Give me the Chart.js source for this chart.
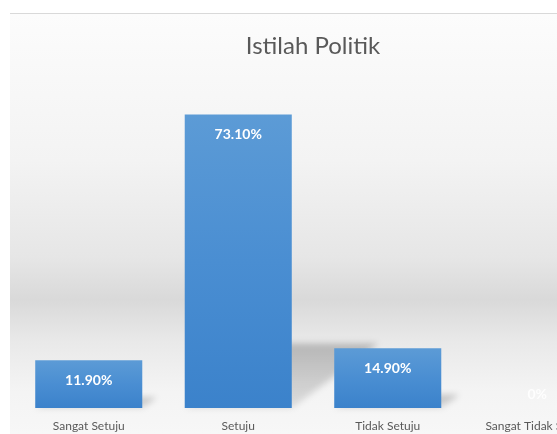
<!DOCTYPE html>
<html>
<head>
<meta charset="utf-8">
<script src="https://cdn.jsdelivr.net/npm/chart.js@4"></script>
<style>
  html, body { margin: 0; padding: 0; background: #fff; }
  #wrap { position: relative; width: 557px; height: 434px; overflow: hidden; }
  #bg {
    position: absolute; left: 10px; top: 13px; right: 0; bottom: 0;
    border-top: 1px solid #d9d9d9;
    background: linear-gradient(to bottom, #fcfcfc 0%, #f3f3f3 35%, #e6e6e6 58%, #d9d9d9 68%, #e9e9e9 78%, #f4f4f4 90%, #f7f7f7 100%);
  }
  #chart { position: absolute; left: 0; top: 0; }
</style>
</head>
<body>
<div id="wrap">
  <div id="bg"></div>
  <canvas id="chart" width="640" height="434"></canvas>
</div>
<script>
const categories = ['Sangat Setuju', 'Setuju', 'Tidak Setuju', 'Sangat Tidak Setuju'];
const percentValues = [11.9, 73.1, 14.9, 0];

function fmtPct(v) {
  return v === 0 ? '0%' : v.toFixed(2) + '%';
}

// per bar gradient, light at the top and darker at the base
function barFill(ctx) {
  var chart = ctx.chart;
  if (!chart.chartArea || !chart.scales.y) return '#4a8fd2';
  var y = chart.scales.y;
  var top = y.getPixelForValue(ctx.raw);
  var base = y.getPixelForValue(0);
  if (!(base - top > 1)) return '#4a8fd2';
  var g = chart.ctx.createLinearGradient(0, top, 0, base);
  g.addColorStop(0, '#5c9bd6');
  g.addColorStop(0.5, '#4a8ed2');
  g.addColorStop(1, '#3b82cb');
  return g;
}

// slanted floor shadow behind each bar
const shadowPlugin = {
  id: 'barShadow',
  beforeDatasetsDraw(chart) {
    var c = chart.ctx;
    chart.getDatasetMeta(0).data.forEach(function (bar) {
      var h = bar.base - bar.y;
      if (h < 2) return;
      var sh = h * 0.22, dx = sh * 1.34;
      var left = bar.x - bar.width / 2, right = bar.x + bar.width / 2;
      c.save();
      c.filter = 'blur(3px)';
      var g = c.createLinearGradient(0, bar.base - sh, 0, bar.base);
      g.addColorStop(0, 'rgba(0,0,0,0.22)');
      g.addColorStop(1, 'rgba(0,0,0,0.10)');
      c.fillStyle = g;
      c.beginPath();
      c.moveTo(left, bar.base);
      c.lineTo(right, bar.base);
      c.lineTo(right + dx, bar.base - sh);
      c.lineTo(left + dx, bar.base - sh);
      c.closePath();
      c.fill();
      c.restore();
    });
  }
};

const valueLabels = {
  id: 'valueLabels',
  afterDatasetsDraw(chart) {
    var c = chart.ctx;
    var ds = chart.data.datasets[0];
    c.save();
    c.font = 'bold 14px Lato';
    c.textAlign = 'center';
    c.textBaseline = 'middle';
    chart.getDatasetMeta(0).data.forEach(function (bar, i) {
      var v = ds.data[i];
      if (v === 0) {
        c.fillStyle = 'rgba(255,255,255,0.85)';
        c.fillText(fmtPct(v), bar.x, bar.y - 14);
      } else {
        c.fillStyle = '#ffffff';
        c.fillText(fmtPct(v), bar.x, bar.y + 20);
      }
    });
    c.restore();
  }
};

new Chart(document.getElementById('chart'), {
  type: 'bar',
  data: {
    labels: categories,
    datasets: [{
      data: percentValues,
      backgroundColor: barFill,
      borderWidth: 0,
      categoryPercentage: 1,
      barPercentage: 0.716
    }]
  },
  options: {
    responsive: false,
    animation: false,
    layout: { padding: { left: 14, right: 28, top: 0, bottom: 0 } },
    plugins: {
      legend: { display: false },
      tooltip: { enabled: false },
      title: {
        display: true,
        text: 'Istilah Politik',
        color: '#595959',
        font: { family: 'Lato', size: 24, weight: 'normal' },
        padding: { top: 32, bottom: 26 }
      }
    },
    scales: {
      x: {
        grid: { display: false, drawTicks: false },
        border: { display: false },
        ticks: { color: '#595959', font: { family: 'Lato', size: 12 }, padding: 11, maxRotation: 0, autoSkip: false },
        afterFit: function (scale) { scale.height = 26; }
      },
      y: {
        display: false,
        min: 0,
        max: 80
      }
    }
  },
  plugins: [shadowPlugin, valueLabels]
});
</script>
</body>
</html>
